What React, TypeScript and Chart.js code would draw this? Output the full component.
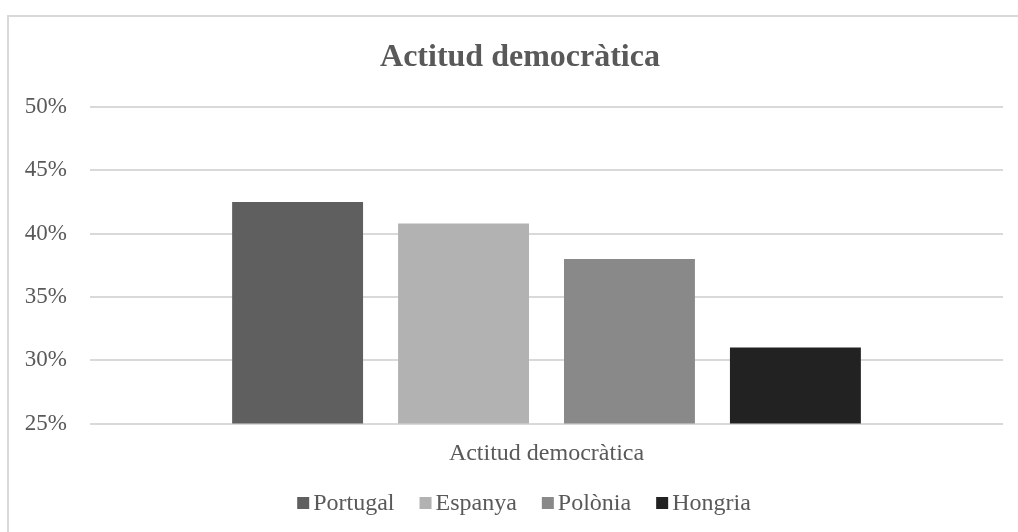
import React, { useEffect, useRef } from 'react';
import { Chart, registerables } from 'chart.js';

Chart.register(...registerables);

const FONT = "'Liberation Serif', 'Times New Roman', serif";
const TEXT_COLOR = '#595959';

const chartTitle = 'Actitud democràtica';
const categories = ['Actitud democràtica'];
const seriesNames = ['Portugal', 'Espanya', 'Polònia', 'Hongria'];
const portugal = [42.5];
const espanya = [40.8];
const polonia = [38.0];
const hongria = [31.0];
const seriesValues = [portugal, espanya, polonia, hongria];
const seriesColors = ['#5f5f5f', '#b2b2b2', '#898989', '#222222'];
const yTicks = [25, 30, 35, 40, 45, 50];

const titleLegendPlugin = {
  id: 'titleAndLegend',
  afterDraw(chart: any) {
    const ctx = chart.ctx as CanvasRenderingContext2D;
    ctx.save();
    // title
    ctx.font = `bold 32px ${FONT}`;
    ctx.fillStyle = TEXT_COLOR;
    ctx.textAlign = 'center';
    ctx.textBaseline = 'alphabetic';
    ctx.fillText(chartTitle, 520, 66);

    // legend
    ctx.font = `24px ${FONT}`;
    const box = 12;
    const gapBoxText = 4;
    const gapItems = 25;
    const items = chart.data.datasets.map((ds: any) => ({
      label: ds.label as string,
      color: ds.backgroundColor as string,
      w: ctx.measureText(ds.label).width,
    }));
    const total =
      items.reduce((s: number, it: any) => s + box + gapBoxText + it.w, 0) +
      gapItems * (items.length - 1);
    let x = 524 - total / 2;
    const baseline = 510;
    ctx.textAlign = 'left';
    items.forEach((it: any) => {
      ctx.fillStyle = it.color;
      ctx.fillRect(x, baseline - 13, box, box);
      x += box + gapBoxText;
      ctx.fillStyle = TEXT_COLOR;
      ctx.fillText(it.label, x, baseline);
      x += it.w + gapItems;
    });
    ctx.restore();
  },
};

export default function App() {
  const ref = useRef<HTMLCanvasElement | null>(null);

  useEffect(() => {
    if (!ref.current) return;
    const chart = new Chart(ref.current, {
      type: 'bar',
      data: {
        labels: categories,
        datasets: seriesNames.map((name, i) => ({
          label: name,
          data: seriesValues[i],
          backgroundColor: seriesColors[i],
          borderWidth: 0,
          categoryPercentage: 0.727,
          barPercentage: 0.789,
        })),
      },
      options: {
        animation: false,
        responsive: false,
        maintainAspectRatio: false,
        layout: { padding: { left: 0, right: 15, top: 107, bottom: 68.5 } },
        plugins: {
          legend: { display: false },
          tooltip: { enabled: false },
          title: { display: false },
        },
        scales: {
          x: {
            afterFit(scale: any) {
              scale.height = 40;
            },
            grid: { display: false },
            border: { display: false },
            ticks: {
              color: TEXT_COLOR,
              font: { family: FONT, size: 24 },
              padding: 8,
            },
          },
          y: {
            min: 25,
            max: 50,
            afterFit(scale: any) {
              scale.width = 90;
            },
            afterBuildTicks(scale: any) {
              scale.ticks = yTicks.map((v) => ({ value: v }));
            },
            grid: { color: '#d9d9d9', lineWidth: 2, drawTicks: false },
            border: { display: false },
            ticks: {
              color: TEXT_COLOR,
              font: { family: FONT, size: 23 },
              padding: 23,
              callback: (v: any) => `${v}%`,
            },
          },
        },
      },
      plugins: [titleLegendPlugin],
    });
    return () => chart.destroy();
  }, []);

  return (
    <div
      style={{
        position: 'fixed',
        left: 0,
        top: 0,
        width: 1018,
        height: 532,
        background: '#ffffff',
        overflow: 'hidden',
      }}
    >
      <div
        style={{
          position: 'absolute',
          left: 7,
          top: 15,
          width: 1040,
          height: 540,
          borderLeft: '2px solid #d9d9d9',
          borderTop: '2px solid #d9d9d9',
        }}
      />
      <canvas
        ref={ref}
        width={1018}
        height={532}
        style={{ position: 'absolute', left: 0, top: 0, width: 1018, height: 532 }}
      />
    </div>
  );
}
